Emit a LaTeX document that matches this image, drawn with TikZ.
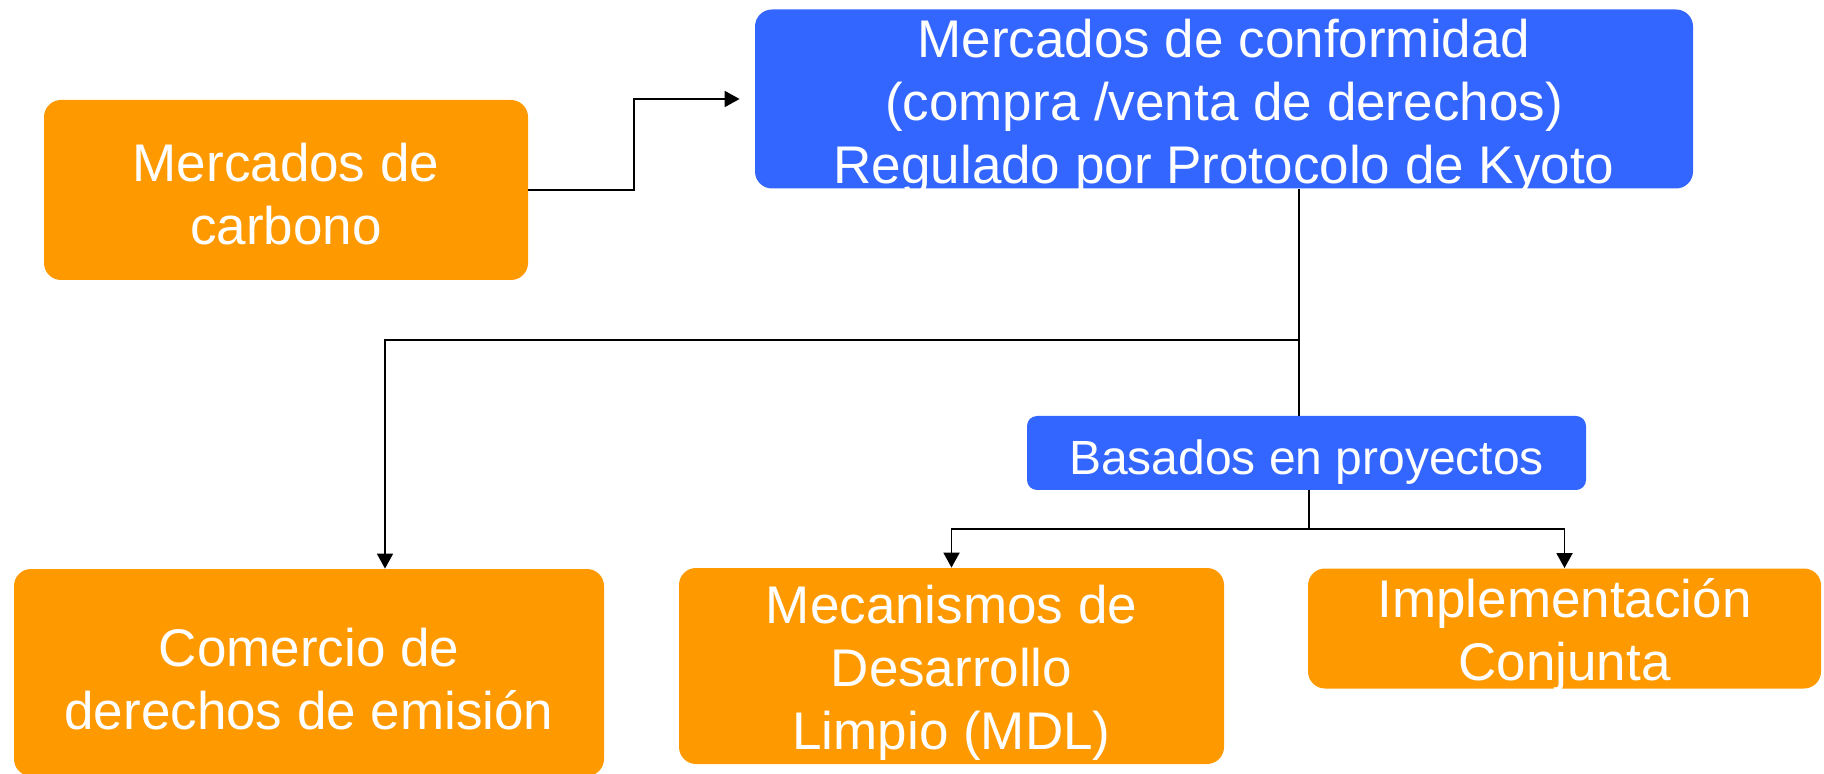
\documentclass[tikz,border=0pt]{standalone}
\usepackage{fontspec}
\setmainfont{Liberation Sans}
\usetikzlibrary{arrows.meta}
\definecolor{naranja}{HTML}{FF9900}
\definecolor{azul}{HTML}{3366FF}
\newcommand{\alto}{\rule{0pt}{26pt}}% baja un poco el texto
\tikzset{
  caja/.style={fill=naranja, text=white, rounded corners=8.5pt, inner xsep=0pt,
    inner ysep=-20pt, align=center, font=\fontsize{26.5}{31.5}\selectfont},
  cajaazul/.style={caja, fill=azul},
  flecha/.style={line width=0.9pt, -{Triangle[length=7.5pt,width=8pt]}},
  linea/.style={line width=0.9pt}
}
\begin{document}
\begin{tikzpicture}[x=0.5pt,y=-0.5pt]
  \useasboundingbox (0,0) rectangle (1824,774);
  % cajas
  \node[caja, minimum width=242pt, minimum height=90pt] (carbono) at (286,190)
    {\rule{0pt}{23pt}Mercados de\\carbono};
  \node[cajaazul, minimum width=469pt, minimum height=89.5pt] (conformidad) at (1224,99)
    {\rule{0pt}{27pt}Mercados de conformidad\\(compra /venta de derechos)\\Regulado por Protocolo de Kyoto};
  \node[cajaazul, rounded corners=5pt, font=\fontsize{24}{28}\selectfont, minimum width=279.5pt,
    minimum height=37pt] (proyectos) at (1306.5,453) {\rule{0pt}{26pt}Basados en proyectos};
  \node[caja, minimum width=295pt, minimum height=103.5pt] (comercio) at (309,672.5)
    {\alto Comercio de\\derechos de emisión};
  \node[caja, minimum width=272.5pt, minimum height=98pt] (mdl) at (951.5,666)
    {\alto Mecanismos de\\Desarrollo\\Limpio (MDL)};
  \node[caja, minimum width=256.5pt, minimum height=60pt] (conjunta) at (1564.5,628.5)
    {\alto Implementación\\Conjunta};

  % conectores
  \coordinate (codo) at (634,190);
  \coordinate (rama) at (1299,340); % bajada desde conformidad
  \coordinate (caida) at (385,569);
  \coordinate (horquilla) at (1309,529); % reparto de proyectos
  \draw[flecha, shorten >=7.5pt] (carbono.east) -- (codo) |- (conformidad.west);
  \draw[flecha] (conformidad.south -| rama) -- (rama) -| (comercio.north -| caida);
  \draw[linea] (rama) -- (proyectos.north -| rama);
  \draw[linea] (proyectos.south -| horquilla) -- (horquilla);
  \draw[flecha] (horquilla) -| (mdl.north);
  \draw[flecha] (horquilla) -| (conjunta.north);
\end{tikzpicture}
\end{document}
